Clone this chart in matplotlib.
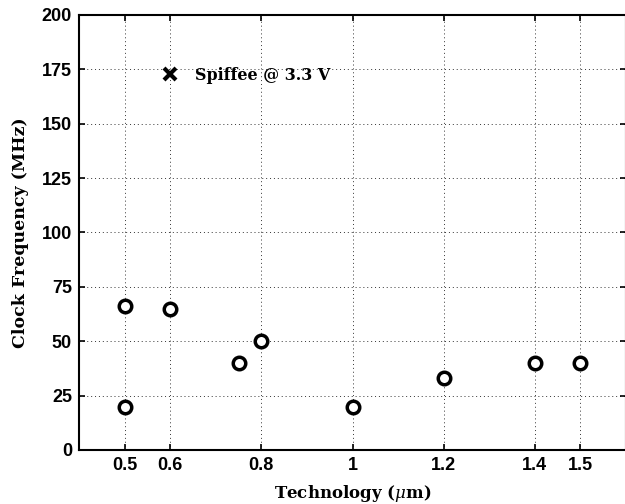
import matplotlib
matplotlib.use("Agg")
import matplotlib.pyplot as plt

# Data
tech = [0.5, 0.5, 0.6, 0.75, 0.8, 1.0, 1.2, 1.4, 1.5]
freq = [66, 20, 65, 40, 50, 20, 33, 40, 40]
spiffee_tech = [0.6]
spiffee_freq = [173]
spiffee_label = "Spiffee @ 3.3 V"
xticks = [0.5, 0.6, 0.8, 1.0, 1.2, 1.4, 1.5]
xticklabels = ["0.5", "0.6", "0.8", "1", "1.2", "1.4", "1.5"]
yticks = [0, 25, 50, 75, 100, 125, 150, 175, 200]

plt.rcParams['mathtext.fontset'] = 'dejavuserif'

fig = plt.figure(figsize=(6.25, 5.04), dpi=100)
ax = fig.add_axes([79/625, 54/504, (626-79)/625, (450-15)/504])

ax.plot(tech, freq, linestyle='none', marker='o', markersize=9,
        markerfacecolor='white', markeredgecolor='black', markeredgewidth=2.5,
        zorder=3, clip_on=False)
ax.plot(spiffee_tech, spiffee_freq, linestyle='none', marker='x', markersize=8,
        markeredgecolor='black', markeredgewidth=3, zorder=3)
ax.text(0.655, 172, spiffee_label, fontfamily='DejaVu Serif', fontweight='bold',
        fontsize=11.5, va='center', ha='left')

ax.set_xlim(0.4, 1.6)
ax.set_ylim(0, 200)
ax.set_xticks(xticks)
ax.set_xticklabels(xticklabels)
ax.set_yticks(yticks)

for lbl in ax.get_xticklabels() + ax.get_yticklabels():
    lbl.set_fontfamily('Liberation Sans')
    lbl.set_fontweight('bold')
    lbl.set_fontsize(13)

ax.tick_params(direction='in', length=4, width=1.2, top=True, right=True, pad=5)
ax.grid(True, linestyle=(0, (1, 3)), color='#333333', linewidth=0.7)

for s in ax.spines.values():
    s.set_linewidth(1.5)

ax.set_xlabel(r'Technology ($\mu$m)', fontfamily='DejaVu Serif', fontweight='bold',
              fontsize=12, labelpad=6.5)
ax.set_ylabel('Clock Frequency (MHz)', fontfamily='DejaVu Serif', fontweight='bold',
              fontsize=12.5, labelpad=9)

fig.savefig('out.png', dpi=100)
